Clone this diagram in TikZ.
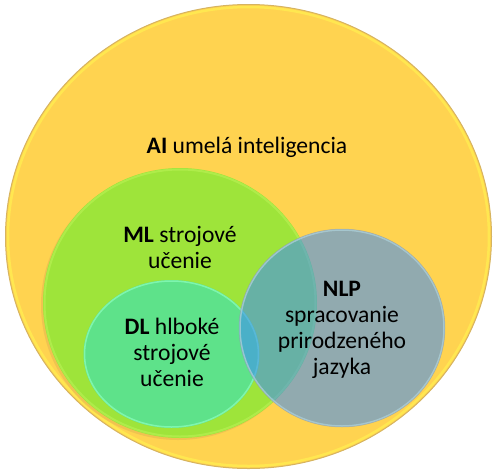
\documentclass[tikz,border=0pt]{standalone}
\usepackage{fontspec}
\setmainfont{Carlito}
\definecolor{aiyellow}{RGB}{255,211,80}
\definecolor{aiedge}{RGB}{214,180,96}
\definecolor{aiglow}{RGB}{255,236,80}
\definecolor{mlgreen}{RGB}{158,228,58}
\definecolor{mledge}{RGB}{182,240,82}
\definecolor{mlshadow}{RGB}{222,176,80}
\definecolor{dlgreen}{RGB}{94,226,138}
\definecolor{dledge}{RGB}{130,248,178}
\definecolor{nlpblue}{RGB}{60,138,250}
\definecolor{nlpedge}{RGB}{170,206,214}
\begin{document}
\begin{tikzpicture}[x=1pt,y=-1pt,
  lbl/.style={font=\fontsize{23.6}{26}\selectfont, align=center, anchor=base, inner sep=0pt, text=black}]
\useasboundingbox (0,0) rectangle (496,475);
% AI
\fill[aiyellow] (248.5,236.5) ellipse [x radius=243, y radius=232];
\draw[aiglow, line width=2.5pt, opacity=0.8] (248.5,236.5) ellipse [x radius=240.5, y radius=229.5];
\draw[aiedge, line width=1pt] (248.5,236.5) ellipse [x radius=243, y radius=232];
% ML shadow
\fill[mlshadow, opacity=0.45] (178,305) ellipse [x radius=137, y radius=135];
% ML
\fill[mlgreen] (180,303) ellipse [x radius=137, y radius=135];
\draw[mledge, line width=2pt, opacity=0.7] (180,303) ellipse [x radius=135.5, y radius=133.5];
% DL
\fill[dlgreen] (171.5,354) ellipse [x radius=88, y radius=74];
\draw[dledge, line width=1.5pt, opacity=0.9] (171.5,354) ellipse [x radius=87, y radius=73];
% NLP
\fill[nlpblue, opacity=0.56] (342,328) ellipse [x radius=103, y radius=99];
\draw[nlpedge, line width=1.5pt, opacity=0.8] (342,328) ellipse [x radius=102, y radius=98];
\draw[gray!70, line width=0.5pt, opacity=0.6] (342,328) ellipse [x radius=103, y radius=99];
% labels
\node[lbl] (ai) at (247,153) {\textbf{AI} umelá inteligencia};
\node[lbl] (ml) at (180,268) {\textbf{ML} strojové\\učenie};
\node[lbl] (dl) at (172,386) {\textbf{DL} hlboké\\strojové\\učenie};
\node[lbl] (nlp) at (342,374) {\textbf{NLP}\\spracovanie\\prirodzeného\\jazyka};
\end{tikzpicture}
\end{document}
